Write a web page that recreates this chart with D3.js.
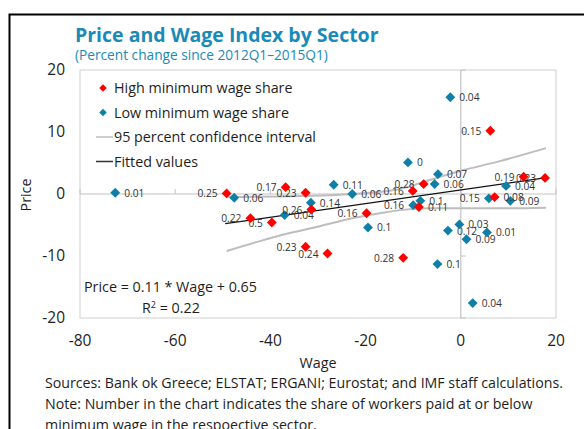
<!DOCTYPE html>
<html>
<head>
<meta charset="utf-8">
<script src="https://cdn.jsdelivr.net/npm/d3@7"></script>
<style>
  body { margin: 0; background: #fff; }
  svg { display: block; font-family: 'Open Sans', sans-serif; }
</style>
</head>
<body>
<svg id="chart" width="584" height="429"></svg>
<script>
// high minimum wage share sectors: wage change, price change, share label
const highWage = [-49.2, -44.2, -39.7, -36.8, -32.6, -31.4, -32.6, -28.0, -19.8, -12.1, -10.1, -7.8, -8.8, 6.2, 7.1, 13.2, 17.7];
const highPrice = [0.1, -3.9, -4.6, 1.1, 0.2, -2.5, -8.5, -9.6, -3.1, -10.3, 0.5, 1.6, -2.1, 10.2, -0.5, 2.8, 2.6];
const highShare = ['0.25', '0.22', '0.5', '0.17', '0.23', '0.26', '0.23', '0.24', '0.16', '0.28', '0.16', '0.28', '0.11', '0.15', '0.08', '0.19', '0.23'];

// low minimum wage share sectors
const lowWage = [-72.6, -47.6, -37.0, -31.5, -26.7, -22.8, -19.5, -11.1, -10.0, -8.5, -5.5, -4.8, -4.9, -2.7, -2.2, -0.3, 1.2, 2.5, 5.5, 5.9, 9.5, 10.4];
const lowPrice = [0.2, -0.6, -3.4, -1.4, 1.5, 0.0, -5.4, 5.1, -1.8, -1.1, 1.6, 3.2, -11.3, -5.9, 15.6, -4.9, -7.3, -17.6, -6.2, -0.7, 1.3, -1.1];
const lowShare = ['0.01', '0.06', '0.04', '0.14', '0.11', '0.06', '0.1', '0', '0.16', '0.1', '0.06', '0.07', '0.1', '0.12', '0.04', '0.03', '0.09', '0.04', '0.01', '0.15', '0.04', '0.09'];

// confidence band
const ciUpperX = [-49.2, -38.0, -27.5, -19.1, -12.8, -8.0, -0.2, 8.2, 17.9];
const ciUpperY = [-0.5, -0.4, -0.2, 0.2, 0.8, 1.9, 3.7, 5.3, 7.4];
const ciLowerX = [-49.2, -42.2, -35.9, -29.6, -23.3, -17.0, -12.8, -6.5, -0.2, 8.2, 17.9];
const ciLowerY = [-9.2, -7.6, -6.3, -5.2, -4.0, -3.1, -2.6, -2.3, -2.3, -2.3, -2.2];

// fitted line: Price = 0.11 * Wage + 0.65
const fitSlope = 0.11;
const fitIntercept = 0.65;
const fitRange = [-49.5, 18];

const xTicks = [-80, -60, -40, -20, 0, 20];
const yTicks = [-20, -10, 0, 10, 20];

// labels drawn to the left of their marker (index into series)
const highLeft = new Set([0, 1, 2, 3, 4, 5, 6, 7, 8, 9, 10, 11, 13, 15, 16]);
const lowLeft = new Set([8, 19]);

const BLUE = '#0f7fa8';
const RED = '#ff0000';
const TITLE = '#1a8ab8';
const INK = '#1e1e1e';

const svg = d3.select('#chart');

// outer frame
svg.append('path')
  .attr('d', 'M9.5,429 V14.5 H584')
  .attr('fill', 'none')
  .attr('stroke', '#000')
  .attr('stroke-width', 2);

svg.append('text')
  .attr('x', 75).attr('y', 42)
  .attr('fill', TITLE)
  .attr('font-size', 19.5)
  .attr('font-weight', 'bold')
  .text('Price and Wage Index by Sector');

svg.append('text')
  .attr('x', 75).attr('y', 60)
  .attr('fill', TITLE)
  .attr('font-size', 13.7)
  .text('(Percent change since 2012Q1\u20132015Q1)');

const x = d3.scaleLinear().domain([-80, 20]).range([80, 556]);
const y = d3.scaleLinear().domain([-20, 20]).range([318, 70]);

const plot = svg.append('g');

// plot frame
plot.append('rect')
  .attr('x', x(-80)).attr('y', y(20))
  .attr('width', x(20) - x(-80)).attr('height', y(-20) - y(20))
  .attr('fill', 'none')
  .attr('stroke', '#cfcfcf');

// zero lines with ticks
plot.append('line')
  .attr('x1', x(-80)).attr('x2', x(20))
  .attr('y1', y(0)).attr('y2', y(0))
  .attr('stroke', '#c4c4c4').attr('stroke-width', 1.2);
plot.append('line')
  .attr('x1', x(0)).attr('x2', x(0))
  .attr('y1', y(-20)).attr('y2', y(20))
  .attr('stroke', '#c4c4c4').attr('stroke-width', 1.2);

plot.selectAll('.xtick')
  .data(xTicks)
  .join('line')
  .attr('x1', (d) => x(d)).attr('x2', (d) => x(d))
  .attr('y1', y(0)).attr('y2', y(0) - 5)
  .attr('stroke', '#c4c4c4');
plot.selectAll('.ytick')
  .data(yTicks)
  .join('line')
  .attr('x1', x(0)).attr('x2', x(0) + 5)
  .attr('y1', (d) => y(d)).attr('y2', (d) => y(d))
  .attr('stroke', '#c4c4c4');

// tick labels
svg.selectAll('.xlab')
  .data(xTicks)
  .join('text')
  .attr('x', (d) => x(d)).attr('y', 346)
  .attr('text-anchor', 'middle')
  .attr('font-size', 15.5)
  .attr('fill', INK)
  .text((d) => d);
svg.selectAll('.ylab')
  .data(yTicks)
  .join('text')
  .attr('x', 65).attr('y', (d) => y(d) + 5)
  .attr('text-anchor', 'end')
  .attr('font-size', 15.5)
  .attr('fill', INK)
  .text((d) => d);

svg.append('text')
  .attr('x', 318).attr('y', 368)
  .attr('text-anchor', 'middle')
  .attr('font-size', 14.3)
  .attr('fill', INK)
  .text('Wage');
svg.append('text')
  .attr('transform', 'translate(31,195) rotate(-90)')
  .attr('text-anchor', 'middle')
  .attr('font-size', 14.3)
  .attr('fill', INK)
  .text('Price');

// confidence band
const line = d3.line().curve(d3.curveMonotoneX);
plot.append('path')
  .attr('d', line(ciUpperX.map((d, i) => [x(d), y(ciUpperY[i])])))
  .attr('fill', 'none').attr('stroke', '#bdbdbd').attr('stroke-width', 2);
plot.append('path')
  .attr('d', line(ciLowerX.map((d, i) => [x(d), y(ciLowerY[i])])))
  .attr('fill', 'none').attr('stroke', '#bdbdbd').attr('stroke-width', 2);

// fitted values
plot.append('line')
  .attr('x1', x(fitRange[0])).attr('y1', y(fitSlope * fitRange[0] + fitIntercept))
  .attr('x2', x(fitRange[1])).attr('y2', y(fitSlope * fitRange[1] + fitIntercept))
  .attr('stroke', '#111').attr('stroke-width', 1.3);

const diamond = d3.symbol().type(d3.symbolDiamond2).size(62);

function drawSeries(wages, prices, shares, color, leftSet) {
  const pts = wages.map((w, i) => ({ w, p: prices[i], s: shares[i], i }));
  const g = plot.append('g');
  g.selectAll('text')
    .data(pts)
    .join('text')
    .attr('x', (d) => x(d.w) + (leftSet.has(d.i) ? -9 : 9))
    .attr('y', (d) => y(d.p) + 4)
    .attr('text-anchor', (d) => (leftSet.has(d.i) ? 'end' : 'start'))
    .attr('font-size', 10.2)
    .attr('fill', '#333')
    .text((d) => d.s);
  g.selectAll('path')
    .data(pts)
    .join('path')
    .attr('d', diamond)
    .attr('transform', (d) => `translate(${x(d.w)},${y(d.p)})`)
    .attr('fill', color);
}

drawSeries(lowWage, lowPrice, lowShare, BLUE, lowLeft);
drawSeries(highWage, highPrice, highShare, RED, highLeft);

// legend
const legend = svg.append('g').attr('font-size', 14.3).attr('fill', INK);
const legendItems = [
  { label: 'High minimum wage share', kind: 'mark', color: RED },
  { label: 'Low minimum wage share', kind: 'mark', color: BLUE },
  { label: '95 percent confidence interval', kind: 'line', color: '#bdbdbd' },
  { label: 'Fitted values', kind: 'line', color: '#333' },
];
legendItems.forEach((item, i) => {
  const ly = 88 + i * 24.5;
  if (item.kind === 'mark') {
    legend.append('path')
      .attr('d', d3.symbol().type(d3.symbolDiamond2).size(36)())
      .attr('transform', `translate(103,${ly})`)
      .attr('fill', item.color);
  } else {
    legend.append('line')
      .attr('x1', 96).attr('x2', 113)
      .attr('y1', ly).attr('y2', ly)
      .attr('stroke', item.color).attr('stroke-width', 1.5);
  }
  legend.append('text')
    .attr('x', 114)
    .attr('y', ly + 5)
    .text(item.label);
});

// regression annotation
svg.append('text')
  .attr('x', 84).attr('y', 292)
  .attr('font-size', 14.3).attr('fill', INK)
  .text('Price = 0.11 * Wage + 0.65');
const r2 = svg.append('text')
  .attr('x', 142).attr('y', 313)
  .attr('font-size', 14.3).attr('fill', INK);
r2.append('tspan').text('R');
r2.append('tspan').attr('dy', -5).attr('font-size', 9).text('2');
r2.append('tspan').attr('dy', 5).text(' = 0.22');

// notes
const notes = [
  'Sources: Bank ok Greece; ELSTAT; ERGANI; Eurostat; and IMF staff calculations.',
  'Note: Number in the chart indicates the share of workers paid at or below',
  'minimum wage in the respoective sector.',
];
svg.selectAll('.note')
  .data(notes)
  .join('text')
  .attr('x', 45)
  .attr('y', (d, i) => 388 + i * 21)
  .attr('font-size', 14.2)
  .attr('fill', INK)
  .text((d) => d);
</script>
</body>
</html>
